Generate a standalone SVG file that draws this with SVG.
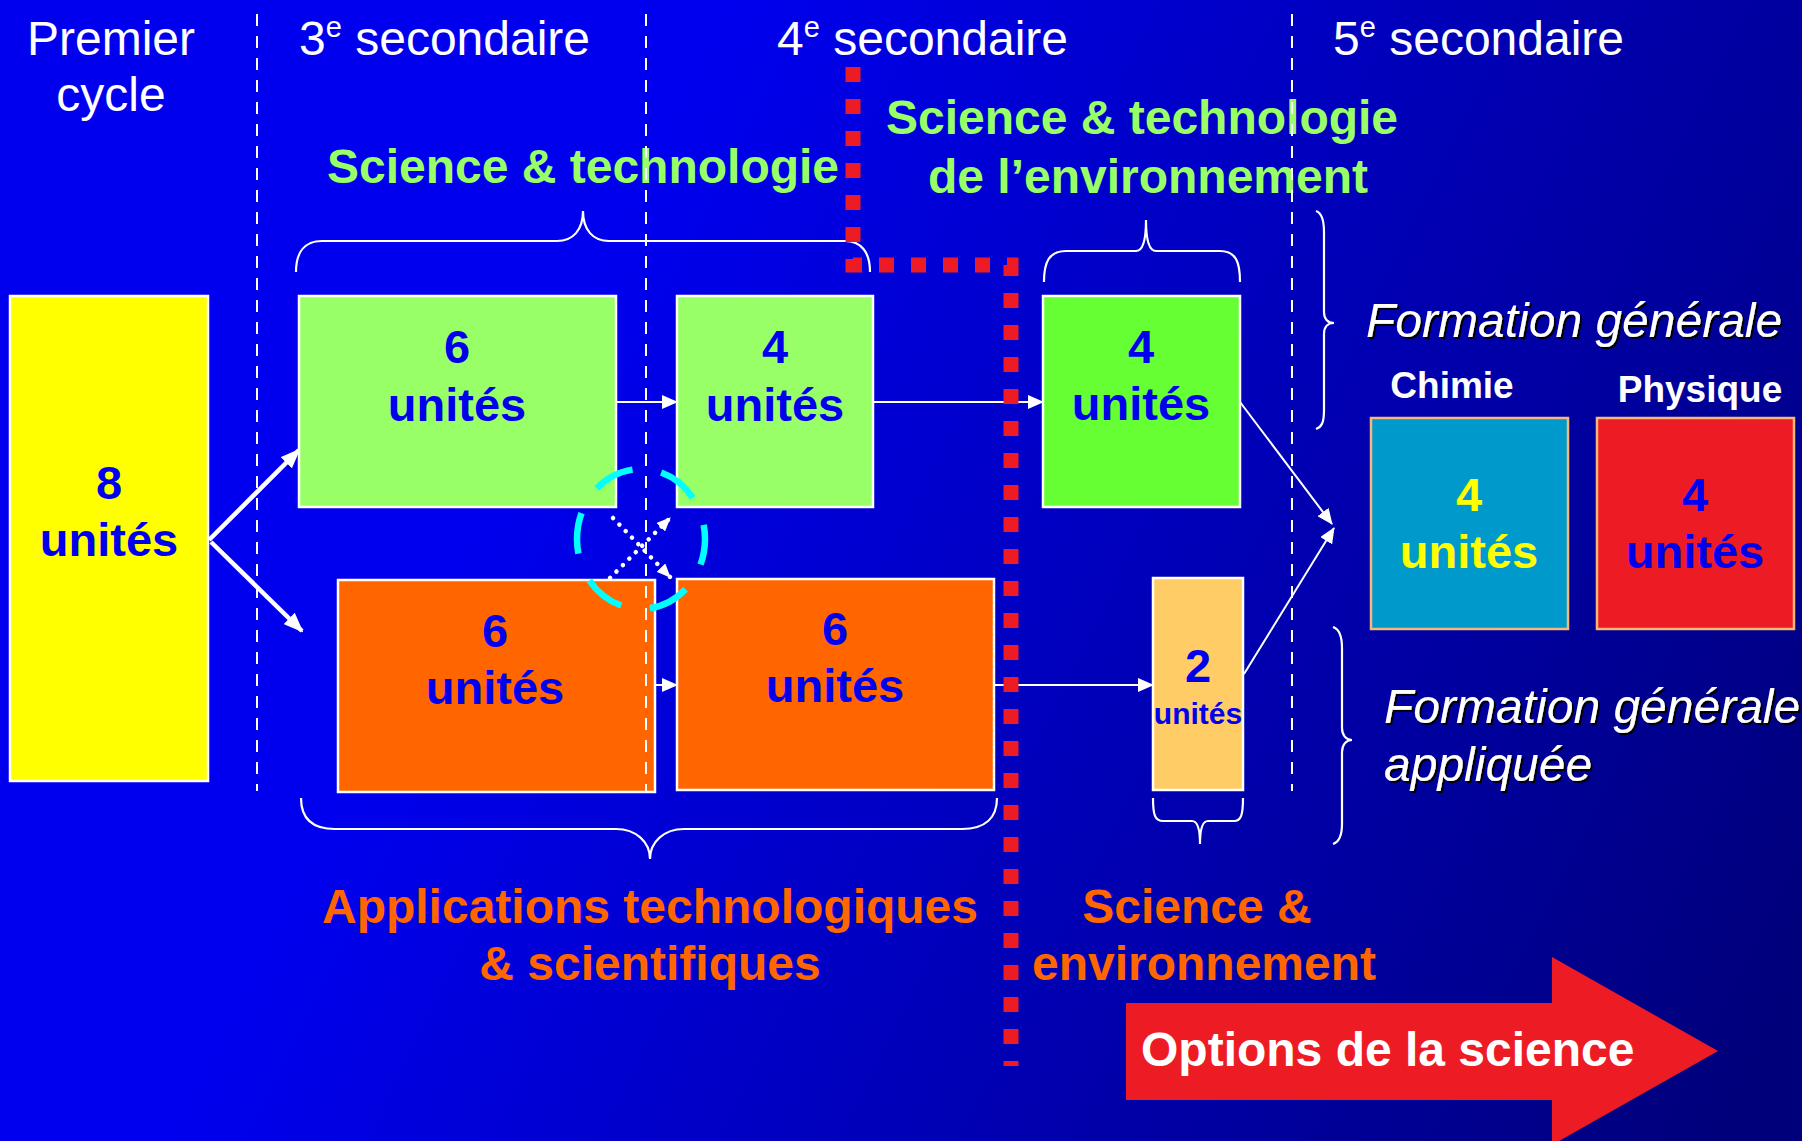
<svg xmlns="http://www.w3.org/2000/svg" width="1802" height="1141" viewBox="0 0 1802 1141">
<defs>
<linearGradient id="bg" gradientUnits="userSpaceOnUse" x1="550" y1="380" x2="1802" y2="1000">
<stop offset="0" stop-color="#0000EE"/>
<stop offset="1" stop-color="#00007A"/>
</linearGradient>
<marker id="ah" viewBox="0 0 16 14" refX="15" refY="7" markerWidth="16" markerHeight="14" markerUnits="userSpaceOnUse" orient="auto">
<path d="M0,0 L16,7 L0,14 z" fill="#fff"/>
</marker>
<marker id="ahb" viewBox="0 0 20 16" refX="18" refY="8" markerWidth="20" markerHeight="16" markerUnits="userSpaceOnUse" orient="auto">
<path d="M0,0 L20,8 L0,16 z" fill="#fff"/>
</marker>
<marker id="ahs" viewBox="0 0 14 12" refX="13" refY="6" markerWidth="14" markerHeight="12" markerUnits="userSpaceOnUse" orient="auto">
<path d="M0,0 L14,6 L0,12 z" fill="#fff"/>
</marker>
<filter id="sh" x="-5%" y="-20%" width="110%" height="140%">
<feDropShadow dx="2" dy="2" stdDeviation="0.3" flood-color="#000" flood-opacity="1"/>
</filter>
<style>
text{font-family:"Liberation Sans",Arial,sans-serif}
.hdr{font-size:48px;fill:#fff}
.sup{font-size:29px}
.num{font-size:47px;font-weight:bold;fill:#0000EE;text-anchor:middle}
.gl{font-size:48px;font-weight:bold;fill:#99FF66;text-anchor:middle}
.ol{font-size:48px;font-weight:bold;fill:#FF6600;text-anchor:middle}
.it{font-size:48px;font-style:italic;fill:#fff;filter:url(#sh)}
.wb{font-size:37px;font-weight:bold;fill:#fff;text-anchor:middle}
.box{stroke:#fff;stroke-width:2.5}
.box2{stroke:#F5B87A;stroke-width:2.5}
.vd{stroke:#fff;stroke-width:2;stroke-dasharray:12 10;fill:none}
.br{stroke:#fff;stroke-width:2.2;fill:none}
.ln{stroke:#fff;stroke-width:2;fill:none}
.lnb{stroke:#fff;stroke-width:4.5;fill:none}
.dot{stroke:#fff;stroke-width:4.5;stroke-dasharray:0.1 9;stroke-linecap:round;fill:none}
</style>
</defs>
<rect x="0" y="0" width="1802" height="1141" fill="url(#bg)"/>

<g id="headers">
<text class="hdr" x="111" y="55" text-anchor="middle">Premier</text>
<text class="hdr" x="111" y="111" text-anchor="middle">cycle</text>
<text class="hdr" x="299" y="55">3<tspan class="sup" dy="-18">e</tspan><tspan dy="18"> secondaire</tspan></text>
<text class="hdr" x="777" y="55">4<tspan class="sup" dy="-18">e</tspan><tspan dy="18"> secondaire</tspan></text>
<text class="hdr" x="1333" y="55">5<tspan class="sup" dy="-18">e</tspan><tspan dy="18"> secondaire</tspan></text>
</g>

<g id="n-premier">
<rect class="box" x="10" y="296" width="198" height="485" fill="#FFFF00"/>
<text class="num" x="109" y="499">8</text>
<text class="num" x="109" y="556">unités</text>
</g>
<g id="n-st3">
<rect class="box" x="299" y="296" width="317" height="211" fill="#99FF66"/>
<text class="num" x="457" y="363">6</text>
<text class="num" x="457" y="421">unités</text>
</g>
<g id="n-st4">
<rect class="box" x="677" y="296" width="196" height="211" fill="#99FF66"/>
<text class="num" x="775" y="363">4</text>
<text class="num" x="775" y="421">unités</text>
</g>
<g id="n-ste4">
<rect class="box" x="1043" y="296" width="197" height="211" fill="#66FF33"/>
<text class="num" x="1141" y="363">4</text>
<text class="num" x="1141" y="420">unités</text>
</g>
<g id="n-ats3">
<rect class="box" x="338" y="580" width="317" height="212" fill="#FF6600"/>
<text class="num" x="495" y="647">6</text>
<text class="num" x="495" y="704">unités</text>
</g>
<g id="n-ats4">
<rect class="box" x="677" y="579" width="317" height="211" fill="#FF6600"/>
<text class="num" x="835" y="645">6</text>
<text class="num" x="835" y="702">unités</text>
</g>
<g id="n-se4">
<rect class="box" x="1153" y="578" width="90" height="212" fill="#FFCC66"/>
<text class="num" x="1198" y="682">2</text>
<text class="num" x="1198" y="724" style="font-size:30px">unités</text>
</g>
<g id="n-chimie">
<text class="wb" x="1452" y="398">Chimie</text>
<rect class="box2" x="1371" y="418" width="197" height="211" fill="#0099CC"/>
<text class="num" x="1469" y="511" style="fill:#FFFF00">4</text>
<text class="num" x="1469" y="568" style="fill:#FFFF00">unités</text>
</g>
<g id="n-physique">
<text class="wb" x="1700" y="402">Physique</text>
<rect class="box2" x="1597" y="418" width="197" height="211" fill="#ED1C24"/>
<text class="num" x="1695" y="511">4</text>
<text class="num" x="1695" y="568">unités</text>
</g>

<g id="labels">
<text class="gl" x="583" y="183">Science &amp; technologie</text>
<text class="gl" x="1142" y="134">Science &amp; technologie</text>
<text class="gl" x="1148" y="193">de l’environnement</text>
<text class="ol" x="650" y="923">Applications technologiques</text>
<text class="ol" x="650" y="980">&amp; scientifiques</text>
<text class="ol" x="1197" y="923">Science &amp;</text>
<text class="ol" x="1204" y="980">environnement</text>
<text class="it" x="1366" y="337">Formation générale</text>
<text class="it" x="1384" y="723">Formation générale</text>
<text class="it" x="1384" y="781">appliquée</text>
</g>

<g id="dividers">
<line class="vd" x1="257" y1="14" x2="257" y2="791"/>
<line class="vd" x1="646" y1="14" x2="646" y2="791"/>
<line class="vd" x1="1292" y1="14" x2="1292" y2="791"/>
</g>

<g id="braces">
<path class="br" d="M296,272 C296,252 305,241 322,241 L557,241 C573,241 583,230 583,211 C583,230 593,241 609,241 L845,241 C861,241 870,252 870,272"/>
<path class="br" d="M1044,282 C1044,262 1049,251 1066,251 L1136,251 C1143,251 1146,240 1146,220 C1146,240 1149,251 1156,251 L1220,251 C1236,251 1240,262 1240,282"/>
<path class="br" d="M1316,211 C1322,213 1324,220 1324,232 L1324,312 C1324,319 1328,323 1334,323 C1328,323 1324,327 1324,334 L1324,410 C1324,422 1322,427 1316,429"/>
<path class="br" d="M301,798 C301,818 312,829 335,829 L616,829 C636,829 650,842 650,859 C650,842 664,829 684,829 L962,829 C985,829 997,818 997,798"/>
<path class="br" d="M1153,798 C1153,815 1155,821 1163,821 L1192,821 C1198,821 1200,830 1200,844 C1200,830 1202,821 1208,821 L1234,821 C1241,821 1243,815 1243,798"/>
<path class="br" d="M1333,627 C1339,629 1342,636 1342,648 L1342,728 C1342,735 1346,740 1352,740 C1346,740 1342,745 1342,752 L1342,824 C1342,836 1339,842 1333,844"/>
</g>

<g id="connectors">
<path class="lnb" d="M209,540 L299,450" marker-end="url(#ahb)"/>
<path class="lnb" d="M211,542 L302,631" marker-end="url(#ahb)"/>
<path class="ln" d="M616,402 H677" marker-end="url(#ah)"/>
<path class="ln" d="M873,402 H1043" marker-end="url(#ah)"/>
<path class="ln" d="M655,685 H677" marker-end="url(#ah)"/>
<path class="ln" d="M994,685 H1153" marker-end="url(#ah)"/>
<path class="ln" d="M1240,402 L1332,524" marker-end="url(#ah)"/>
<path class="ln" d="M1244,674 L1334,528" marker-end="url(#ah)"/>
<path class="dot" d="M613,518 L670,577" marker-end="url(#ahs)"/>
<path class="dot" d="M610,578 L670,518" marker-end="url(#ahs)"/>
</g>

<g id="limit">
<path d="M853,67 V265 H1011 V1066" fill="none" stroke="#ED1C24" stroke-width="15" stroke-dasharray="15 17"/>
</g>

<g id="highlight">
<ellipse cx="641" cy="539" rx="64" ry="70" fill="none" stroke="#00FFFF" stroke-width="6.5" stroke-dasharray="41 29.2" stroke-dashoffset="15"/>
</g>

<g id="n-options">
<path d="M1126,1003 H1552 V957 L1718,1051 L1552,1145 V1100 H1126 z" fill="#ED1C24"/>
<text x="1141" y="1066" style="font-size:48px;font-weight:bold;fill:#fff">Options de la science</text>
</g>
</svg>
